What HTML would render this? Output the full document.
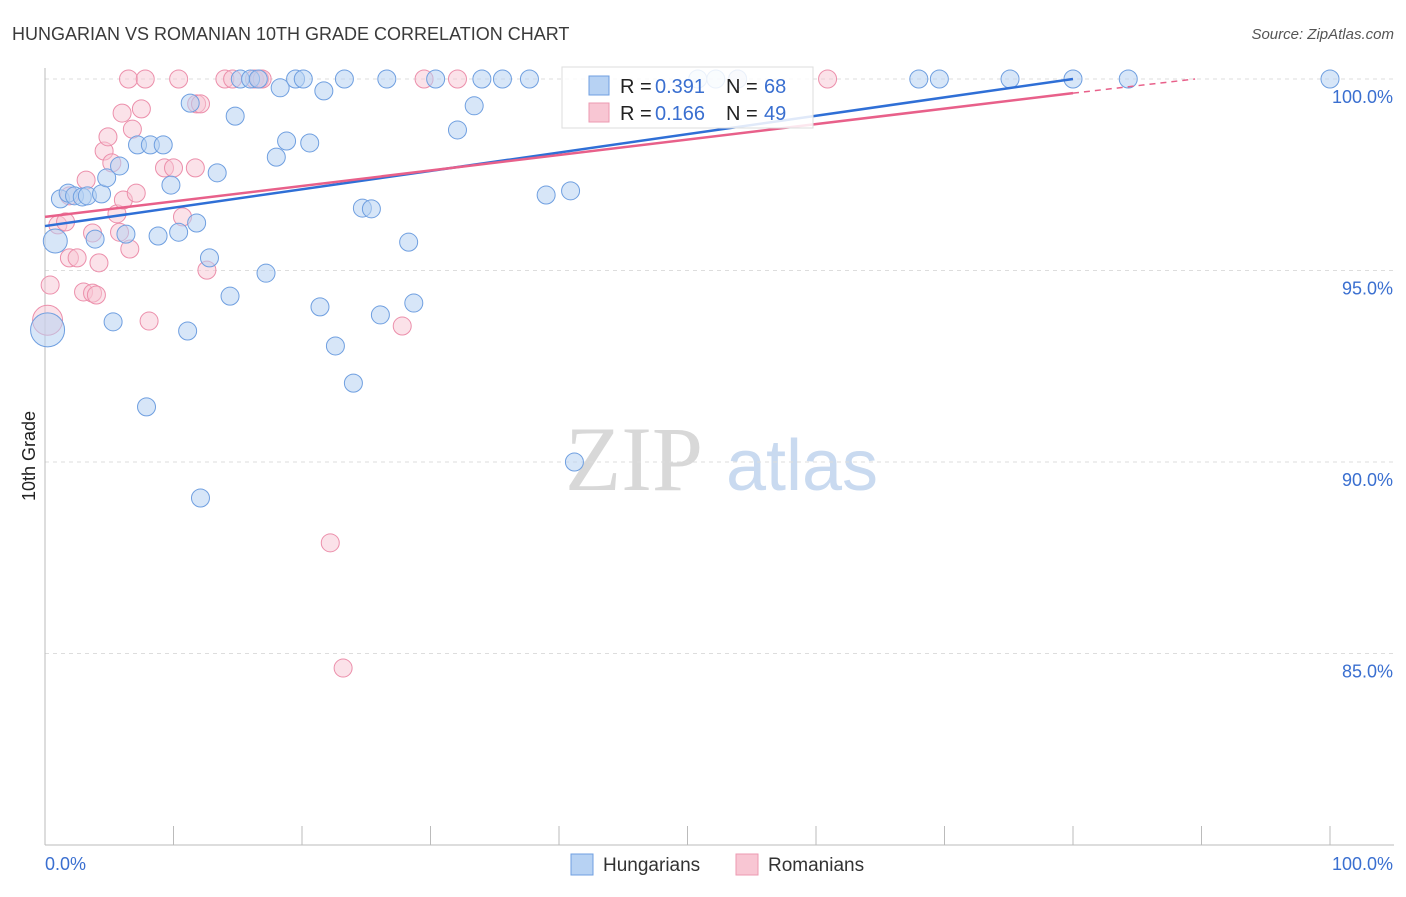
<!DOCTYPE html>
<html><head><meta charset="utf-8"><style>
body{margin:0;background:#fff;font-family:"Liberation Sans",sans-serif}
svg text{font-family:"Liberation Sans",sans-serif}
</style></head><body>
<svg width="1406" height="892" viewBox="0 0 1406 892">
<text x="12" y="40" font-size="18" fill="#3a3a3a">HUNGARIAN VS ROMANIAN 10TH GRADE CORRELATION CHART</text>
<text x="1394" y="39" font-size="15" fill="#555" text-anchor="end" font-style="italic">Source: ZipAtlas.com</text>
<text x="35" y="456" font-size="18" fill="#222" text-anchor="middle" transform="rotate(-90 35 456)">10th Grade</text>
<g>
<text x="634" y="490" font-size="92" fill="#d8d8d8" text-anchor="middle" style="font-family:'Liberation Serif',serif">ZIP</text>
<text x="802" y="490" font-size="72" fill="#c9daf0" text-anchor="middle">atlas</text>
</g>
<g id="grid"></g>
<g id="axes"></g>
<g id="pts"></g>
<g id="trend"></g>
<g>
<rect x="562" y="67" width="251" height="61" fill="#fff" fill-opacity="0.85" stroke="#ddd"/>
<rect x="589" y="76" width="20" height="19" fill="#b7d2f3" stroke="#6f9fe0"/>
<text x="620" y="93" font-size="20" fill="#222">R =</text>
<text x="655" y="93" font-size="20" fill="#3a6fd0">0.391</text>
<text x="726" y="93" font-size="20" fill="#222">N =</text>
<text x="764" y="93" font-size="20" fill="#3a6fd0">68</text>
<rect x="589" y="103" width="20" height="19" fill="#f8c6d3" stroke="#ec9ab1"/>
<text x="620" y="120" font-size="20" fill="#222">R =</text>
<text x="655" y="120" font-size="20" fill="#3a6fd0">0.166</text>
<text x="726" y="120" font-size="20" fill="#222">N =</text>
<text x="764" y="120" font-size="20" fill="#3a6fd0">49</text>
</g>
<g>
<rect x="571" y="854" width="22" height="21" fill="#b7d2f3" stroke="#6f9fe0"/>
<text x="603" y="871" font-size="19" fill="#333">Hungarians</text>
<rect x="736" y="854" width="22" height="21" fill="#f8c6d3" stroke="#ec9ab1"/>
<text x="768" y="871" font-size="19" fill="#333">Romanians</text>
</g>
</svg>
<script>
const blueX=[0.8,0.2,1.2,1.8,2.3,2.9,3.3,4.4,3.9,4.8,5.3,5.8,6.3,7.2,8.2,9.2,8.8,9.8,7.9,10.4,11.3,11.1,11.8,12.1,12.8,13.4,14.4,14.8,15.2,16.0,16.6,17.2,18.0,18.3,18.8,19.5,20.1,20.6,21.4,21.7,22.6,23.3,24.0,24.7,25.4,26.1,26.6,28.3,28.7,30.4,32.1,33.4,34.0,35.6,37.7,39.0,40.9,41.2,50.8,52.2,53.9,68.0,69.6,75.1,80.0,84.3,100];
const blueY=[95.77,93.45,96.87,97.02,96.95,96.92,96.95,97.0,95.82,97.42,93.66,97.73,95.95,98.28,98.28,98.28,95.9,97.23,91.44,96.0,99.37,93.42,96.24,89.06,95.33,97.55,94.33,99.03,100,100,100,94.93,97.96,99.77,98.38,100,100,98.33,94.05,99.69,93.03,100,92.06,96.63,96.61,93.84,100,95.74,94.15,100,98.67,99.3,100,100,100,96.97,97.08,90.0,100,100,100,100,100,100,100,100,100];
const blueR=[12,17,9,9,9,9,9,9,9,9,9,9,9,9,9,9,9,9,9,9,9,9,9,9,9,9,9,9,9,9,9,9,9,9,9,9,9,9,9,9,9,9,9,9,9,9,9,9,9,9,9,9,9,9,9,9,9,9,9,9,9,9,9,9,9,9,9];
const pinkX=[0.2,0.4,1.0,1.6,1.9,2.5,3.0,3.7,4.0,4.2,3.2,3.7,4.6,4.9,5.2,5.6,5.8,6.1,6.5,6.6,6.0,6.8,7.1,7.5,7.8,8.1,9.3,10.0,10.4,10.7,11.7,11.8,12.1,12.6,14.0,14.6,16.3,16.7,16.9,22.2,23.2,27.8,29.5,32.1,53.9,60.9,1.9];
const pinkY=[93.7,94.62,96.19,96.27,95.33,95.33,94.44,94.41,94.36,95.2,97.36,95.98,98.12,98.49,97.81,96.48,96.0,96.84,100,95.56,99.11,98.69,97.02,99.22,100,93.68,97.68,97.68,100,96.4,97.68,99.35,99.35,95.01,100,100,100,100,100,87.89,84.62,93.55,100,100,100,100,96.95];
const pinkR=[15,9,9,9,9,9,9,9,9,9,9,9,9,9,9,9,9,9,9,9,9,9,9,9,9,9,9,9,9,9,9,9,9,9,9,9,9,9,9,9,9,9,9,9,9,9,9];
const yTicks=[100,95,90,85];
const yTickLabels=["100.0%","95.0%","90.0%","85.0%"];
const xTicks=[0,10,20,30,40,50,60,70,80,90,100];
const blueTrend=[[0,96.16],[80,100]];
const pinkTrend=[[0,96.4],[80,99.63]];
const pinkDash=[[80,99.63],[89.5,100]];
const NS="http://www.w3.org/2000/svg";
const sx=v=>45+v*12.85;
const sy=v=>79+(100-v)*38.3;
function mk(tag,attrs,parent){const e=document.createElementNS(NS,tag);for(const k in attrs)e.setAttribute(k,attrs[k]);parent.appendChild(e);return e;}
const grid=document.getElementById('grid'),axes=document.getElementById('axes'),pts=document.getElementById('pts'),tr=document.getElementById('trend');
yTicks.forEach((t,i)=>{
 const l=mk('line',{x1:45,x2:1394,y1:sy(t),y2:sy(t),stroke:'#ddd','stroke-dasharray':'4 4'},grid);
 
 
 const tx=mk('text',{x:1393,y:sy(t)+24,'font-size':18,fill:'#3a6fd0','text-anchor':'end'},axes);
 tx.textContent=yTickLabels[i];
 
 
});
const ya=mk('line',{x1:45,x2:45,y1:68,y2:845,stroke:'#bbb'},axes);


const xa=mk('line',{x1:45,x2:1394,y1:845,y2:845,stroke:'#bbb'},axes);


xTicks.forEach(t=>{
 const l=mk('line',{x1:sx(t),x2:sx(t),y1:826,y2:845,stroke:'#bbb'},axes);
 
 
});
const xl0=mk('text',{x:45,y:870,'font-size':18,fill:'#3a6fd0'},axes);xl0.textContent="0.0%";


const xl1=mk('text',{x:1393,y:870,'font-size':18,fill:'#3a6fd0','text-anchor':'end'},axes);xl1.textContent="100.0%";


pinkX.forEach((x,i)=>{
 const c=mk('circle',{cx:sx(x),cy:sy(pinkY[i]),r:pinkR[i],fill:'#f8c6d3','fill-opacity':0.5,stroke:'#ec8fab','stroke-width':1},pts);
 
 
});
blueX.forEach((x,i)=>{
 const c=mk('circle',{cx:sx(x),cy:sy(blueY[i]),r:blueR[i],fill:'#b7d2f3','fill-opacity':0.55,stroke:'#6f9fe0','stroke-width':1},pts);
 
 
});
const bl=mk('line',{x1:sx(blueTrend[0][0]),y1:sy(blueTrend[0][1]),x2:sx(blueTrend[1][0]),y2:sy(blueTrend[1][1]),stroke:'#2f6fd6','stroke-width':2.5},tr);


const pl=mk('line',{x1:sx(pinkTrend[0][0]),y1:sy(pinkTrend[0][1]),x2:sx(pinkTrend[1][0]),y2:sy(pinkTrend[1][1]),stroke:'#e8608a','stroke-width':2.5},tr);


const pd=mk('line',{x1:sx(pinkDash[0][0]),y1:sy(pinkDash[0][1]),x2:sx(pinkDash[1][0]),y2:sy(pinkDash[1][1]),stroke:'#e8608a','stroke-width':1.5,'stroke-dasharray':'6 5'},tr);


</script>
</body></html>
